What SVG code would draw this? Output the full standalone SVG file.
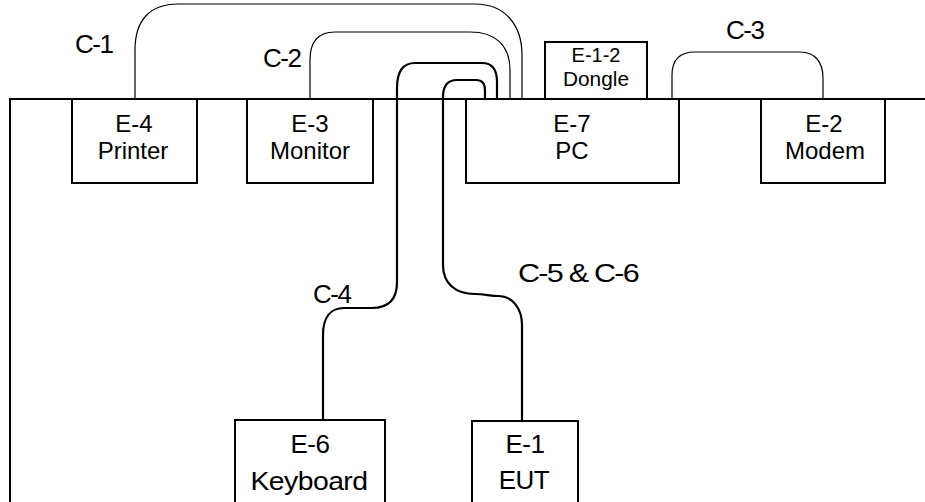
<svg xmlns="http://www.w3.org/2000/svg" width="925" height="502" viewBox="0 0 925 502">
<style>
.box{fill:#fff;stroke:#000;stroke-width:2}
.t{font-family:"Liberation Sans",Arial,sans-serif;font-size:24px;fill:#000;text-anchor:middle}
.b{font-size:26px;letter-spacing:-0.5px}
.s{font-size:20px}
.thin{fill:none;stroke:#000;stroke-width:1.2}
.thick{fill:none;stroke:#000;stroke-width:2.2}
.lbl{font-family:"Liberation Sans",Arial,sans-serif;font-size:26px;fill:#000;letter-spacing:-1.5px}
</style>
<rect width="925" height="502" fill="#fff"/>
<g id="table">
<path d="M10,502 V99 H925" fill="none" stroke="#000" stroke-width="2"/>
</g>
<g id="connectors">
<path id="c1" class="thin" d="M135,99 V50 C135,20 150,4 178,4 H475 C505,4 522,25 522,55 V99"/>
<path id="c2" class="thin" d="M310,99 V60 C310,42 318,32 335,32 H470 C495,32 510,45 510,70 V99"/>
<path id="c3" class="thin" d="M672,99 V75 C672,60 680,52 695,52 H800 C815,52 823,62 823,78 V99"/>
<path id="c4" class="thick" d="M497,99 V82 C497,70 492,63 482,63 H415 C403,63 397,72 397,88 V282 C397,300 388,308 372,308 H344 C330,308 323,318 323,335 V420"/>
<path id="c5" class="thick" d="M485,99 V90 C485,84 482,80 476,80 H457 C448,80 443,86 443,97 V265 C443,283 455,294 475,294 C485,294 490,296 498,296 C512,296 522,308 522,325 V421"/>
<text class="lbl" x="75" y="53">C-1</text>
<text class="lbl" x="263" y="67">C-2</text>
<text class="lbl" x="726" y="39">C-3</text>
<text class="lbl" x="313" y="303">C-4</text>
<text class="lbl" x="518" y="282" textLength="120" lengthAdjust="spacingAndGlyphs">C-5 &amp; C-6</text>
</g>
<g id="e4">
<rect class="box" x="72" y="99" width="125" height="84"/>
<text class="t" x="134" y="132">E-4</text>
<text class="t" x="133" y="159">Printer</text>
</g>
<g id="e3">
<rect class="box" x="247" y="99" width="126" height="84"/>
<text class="t" x="310" y="132">E-3</text>
<text class="t" x="310" y="159">Monitor</text>
</g>
<g id="e7">
<rect class="box" x="466" y="99" width="213" height="84"/>
<text class="t" x="572" y="132">E-7</text>
<text class="t" x="572" y="159">PC</text>
</g>
<g id="e12">
<rect class="box" x="545" y="42" width="102" height="57"/>
<text class="t s" x="596" y="62">E-1-2</text>
<text class="t s" x="596" y="86" textLength="66" lengthAdjust="spacingAndGlyphs">Dongle</text>
</g>
<g id="e2">
<rect class="box" x="761" y="99" width="124" height="84"/>
<text class="t" x="824" y="132">E-2</text>
<text class="t" x="825" y="159">Modem</text>
</g>
<g id="e6">
<rect class="box" x="235" y="420" width="150" height="90"/>
<text class="t b" x="310" y="453">E-6</text>
<text class="t b" x="309" y="490" textLength="117" lengthAdjust="spacingAndGlyphs">Keyboard</text>
</g>
<g id="e1">
<rect class="box" x="472" y="421" width="106" height="90"/>
<text class="t b" x="525" y="453">E-1</text>
<text class="t b" x="524" y="489">EUT</text>
</g>
</svg>
